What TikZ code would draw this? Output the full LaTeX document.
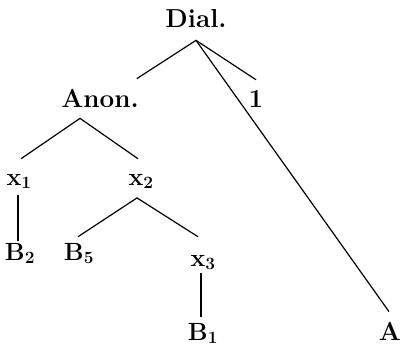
\documentclass[tikz,border=0pt]{standalone}
\usepackage{tikz}
\begin{document}
\begin{tikzpicture}[x=1pt, y=-1pt,
    lbl/.style={font=\fontsize{26}{30}\selectfont\bfseries\boldmath, inner sep=0pt, anchor=base},
    branch/.style={line width=1.2pt},
]
\useasboundingbox (0,0) rectangle (401,350);
% Level 1
\node[lbl] (dial) at (196,28) {Dial.};
% Level 2
\node[lbl] (anon) at (100,107) {Anon.};
\node[lbl] (one) at (256,107) {1};
% Level 3
\node[lbl] (xa) at (19,185) {$\mathbf{x}_1$};
\node[lbl] (xb) at (141,185) {$\mathbf{x}_2$};
% Level 4
\node[lbl] (Bb) at (20,260) {$\mathbf{B}_2$};
\node[lbl] (Be) at (79,260) {$\mathbf{B}_5$};
\node[lbl] (xc) at (203,266) {$\mathbf{x}_3$};
% Level 5
\node[lbl] (Ba) at (203,340) {$\mathbf{B}_1$};
\node[lbl] (A) at (390,340) {A};
% Branches
\draw[branch] ([xshift=-2pt,yshift=10pt]anon.north east) -- ([yshift=-12pt]dial.south) -- ([yshift=10pt]one.north);
\draw[branch] ([yshift=-12pt]dial.south) -- ([xshift=-1pt,yshift=10pt]A.north);
\draw[branch] ([xshift=2pt,yshift=15pt]xa.north) -- ([xshift=-20pt,yshift=-11pt]anon.south) -- ([xshift=-3pt,yshift=15pt]xb.north);
\draw[branch] ([xshift=-1pt,yshift=-6pt]xa.south) -- ([xshift=-2pt,yshift=2pt]Bb.north);
\draw[branch] ([xshift=-1pt,yshift=6pt]Be.north) -- ([xshift=-4pt,yshift=-9pt]xb.south) -- ([xshift=-5pt,yshift=18pt]xc.north);
\draw[branch] ([xshift=-2pt,yshift=-3pt]xc.south) -- ([xshift=-2pt,yshift=6pt]Ba.north);
\end{tikzpicture}
\end{document}
